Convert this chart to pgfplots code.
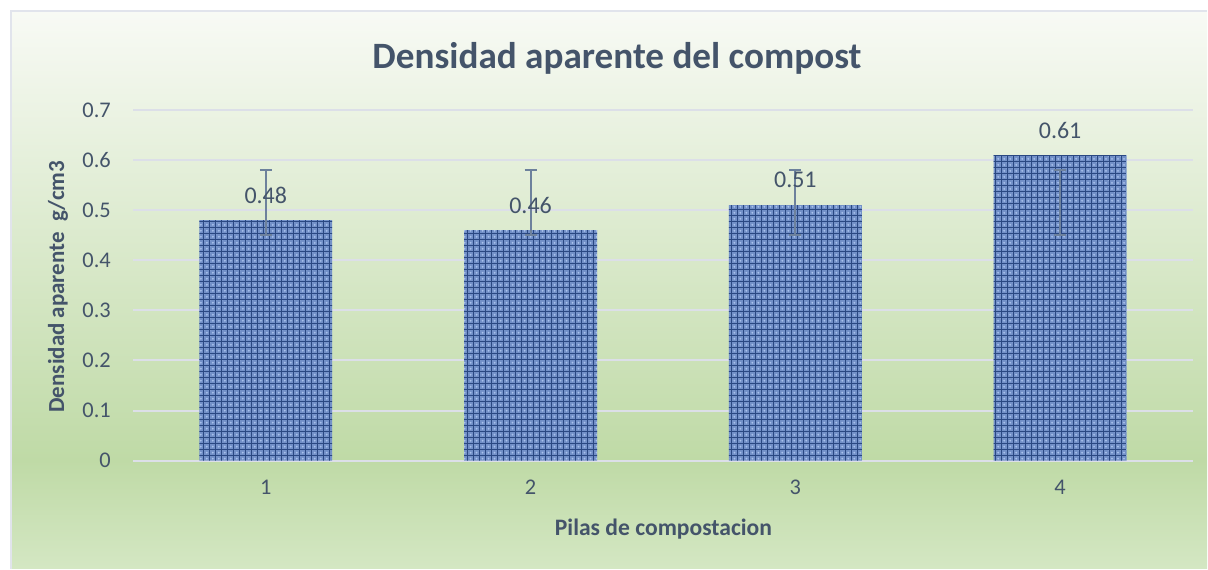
\documentclass[border=0pt]{standalone}
\usepackage{fontspec}
\setmainfont{Carlito}
\usepackage{pgfplots}
\pgfplotsset{compat=1.18}
\usetikzlibrary{patterns}

\definecolor{txt}{HTML}{44546A}
\definecolor{gridc}{HTML}{DCDFE8}
\definecolor{errc}{HTML}{6D819C}
\definecolor{barc}{HTML}{7290C8}
\definecolor{bardark}{HTML}{2A4882}
\definecolor{bglite}{HTML}{A9C2EC}
\definecolor{bgtop}{HTML}{F8FAF5}
\definecolor{bgmid}{HTML}{BFDAA6}
\definecolor{bgbot}{HTML}{D4E7C3}
\definecolor{framec}{HTML}{E1E4EC}

\pgfdeclareverticalshading{bgshade}{100bp}{%
  color(0bp)=(bgbot); color(25bp)=(bgbot); color(34.7bp)=(bgmid);
  color(75bp)=(bgtop); color(100bp)=(bgtop)}

\begin{document}
\begin{tikzpicture}
% canvas: 1 px = 0.5pt
\fill[white] (0,0) rectangle (604pt,284.5pt);
\shade[shading=bgshade] (5.5pt,0pt) rectangle (604pt,279pt);
\draw[framec, line width=1pt] (5.5pt,0pt) -- (5.5pt,279pt) -- (604pt,279pt);

\node[txt, font=\fontsize{18.6}{22}\selectfont\bfseries] at (308.75pt,255.5pt) {Densidad aparente del compost};
\node[txt, font=\fontsize{11.8}{14}\selectfont\bfseries] at (332pt,19.5pt) {Pilas de compostacion};
\node[txt, font=\fontsize{11.5}{14}\selectfont\bfseries, rotate=90] at (29pt,141pt) {Densidad aparente\ \ g/cm3};

\begin{axis}[
  at={(66.75pt,54pt)}, anchor=south west,
  scale only axis, width=530pt, height=175.5pt,
  xmin=0.5, xmax=4.5, ymin=0, ymax=0.7,
  xtick={1,2,3,4},
  ytick={0,0.1,0.2,0.3,0.4,0.5,0.6,0.7},
  yticklabel style={/pgf/number format/fixed, /pgf/number format/precision=1},
  axis line style={draw=none},
  major tick length=0pt,
  ymajorgrids, grid style={gridc, line width=1pt},
  tick label style={txt, font=\fontsize{11.2}{13}\selectfont},
  /pgf/number format/assume math mode=true,
  yticklabel style={xshift=-7.8pt},
  xticklabel style={yshift=-6.3pt},
  clip=false,
]
\addplot[ybar, bar width=66.5pt, bar shift=0pt, draw=none,
  fill=barc,
  postaction={pattern=crosshatch dots, pattern color=bglite},
  postaction={pattern=grid, pattern color=bardark},
  nodes near coords,
  nodes near coords style={/pgf/number format/fixed, /pgf/number format/precision=2, /pgf/number format/fixed zerofill},
  every node near coord/.append style={txt, font=\fontsize{12}{14}\selectfont, anchor=center, yshift=12.5pt}]
  coordinates {(1,0.48) (2,0.46) (3,0.51) (4,0.61)};
\addplot[only marks, mark=*, mark size=0.01pt, color=errc,
  error bars/.cd, y dir=both, y explicit,
  error mark=-,
  error bar style={errc, line width=1pt},
  error mark options={rotate=90, errc, mark size=3pt, line width=1pt}]
  coordinates {(1,0.515) +- (0,0.065) (2,0.515) +- (0,0.065) (3,0.515) +- (0,0.065) (4,0.515) +- (0,0.065)};
\end{axis}
\end{tikzpicture}
\end{document}
